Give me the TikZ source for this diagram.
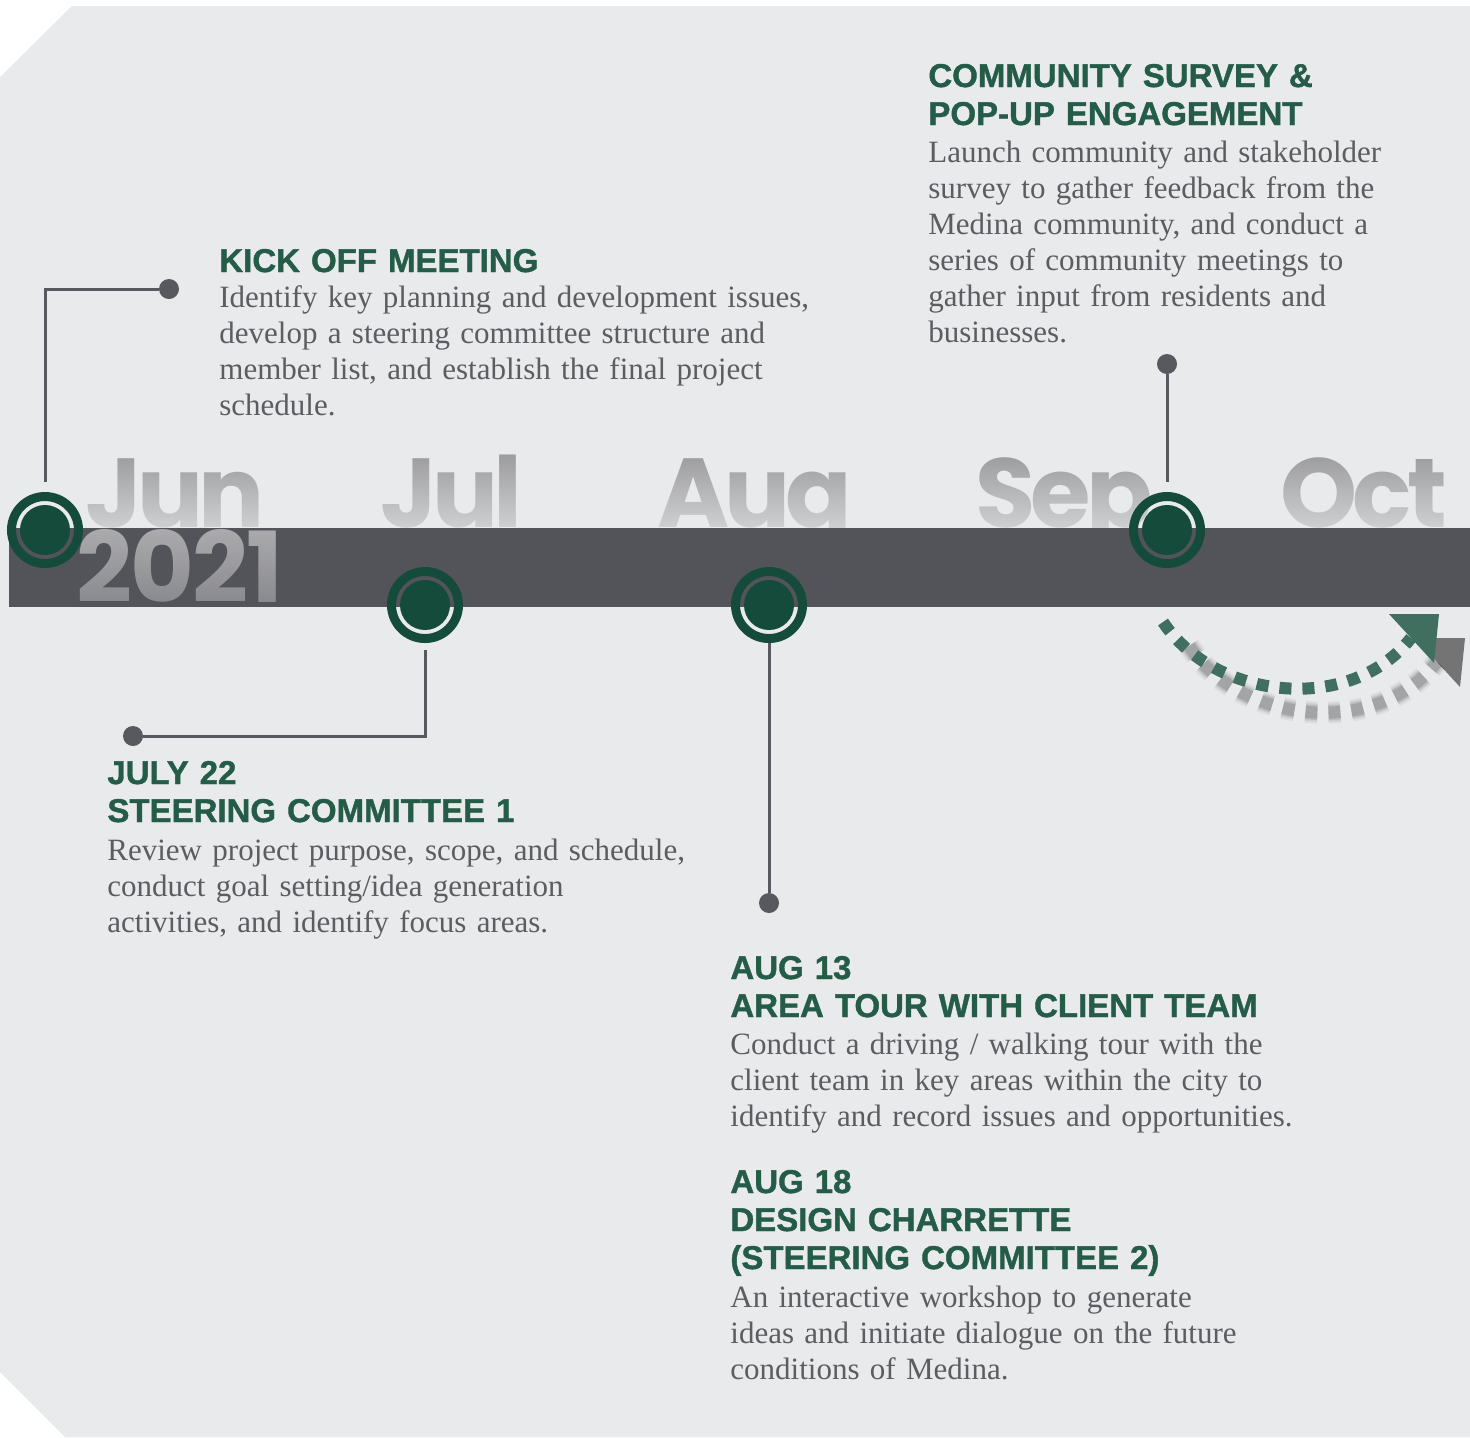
\documentclass[tikz,border=0pt]{standalone}
\usepackage{fontspec}
\usetikzlibrary{fadings}
\newfontfamily\headfont{Liberation Sans}[BoldFeatures={FakeBold=1.2}]
\newfontfamily\bodyfont{Liberation Serif}
\newfontfamily\monthfont{Poppins}[LetterSpace=-5]
\newfontfamily\yearfont{Poppins}[LetterSpace=-2]
\definecolor{bgcol}{HTML}{E9EAEC}
\definecolor{barcol}{HTML}{535459}
\definecolor{msgreen}{HTML}{154B3A}
\definecolor{headgreen}{HTML}{245C48}
\definecolor{bodygray}{HTML}{5C5D61}
\definecolor{stemgray}{HTML}{58595E}
\definecolor{flowgreen}{HTML}{416F5F}
\definecolor{monthgray}{HTML}{9A9A9D}
\definecolor{yeargray}{HTML}{ABABAE}
\tikzfading[name=fadelow, top color=transparent!100, bottom color=transparent!32]
\tikzfading[name=fadeyear, top color=transparent!100, bottom color=transparent!60]
\tikzset{
  monthlabel/.style={font=\monthfont\bfseries\fontsize{49}{49}\selectfont, text=monthgray, anchor=base west, inner sep=0pt},
  yearlabel/.style={font=\yearfont\bfseries\fontsize{49}{49}\selectfont, text=yeargray, anchor=base west, inner sep=0pt},
  milestone/.style={circle, draw=msgreen, line width=4.5pt, minimum size=33.5pt, inner sep=0pt,
    path picture={\fill[msgreen] (path picture bounding box.center) circle (12.5pt);}},
  knob/.style={circle, fill=stemgray, minimum size=10pt, inner sep=0pt},
  stemline/.style={draw=stemgray, line width=1.5pt},
  headtext/.style={font=\headfont\bfseries\fontsize{16.5}{19}\selectfont, text=headgreen, anchor=base west, inner sep=0pt, align=left, text width=330pt},
  bodytext/.style={font=\bodyfont\fontsize{15.5}{18}\selectfont, text=bodygray, anchor=base west, inner sep=0pt, align=left, text width=330pt},
}
\begin{document}
\begin{tikzpicture}[x=0.5pt, y=-0.5pt]
\useasboundingbox (0,0) rectangle (1470,1437);
\fill[bgcol] (72,6) -- (1470,6) -- (1470,1437) -- (65,1437) -- (0,1372) -- (0,77) -- cycle;
% months
\foreach \m/\x in {Jun/85, Jul/380, Aug/657, Sep/975, Oct/1280} % edit here for the months
\node[monthlabel] (month\m) at (\x,527) {\m};
\fill[bgcol, path fading=fadelow] (60,450) rectangle (1465,528);
% bar
\fill[barcol] (9,528) rectangle (1470,607);
\node[yearlabel] (year) at (76,602) {2021};
\fill[barcol, path fading=fadeyear] (60,530) rectangle (300,607);
% arrow and its shadow
\begin{scope}[shift={(26,24)}]
\foreach \w/\o in {11/0.05, 9/0.07, 7.5/0.09, 6/0.12} % blur
\draw[line width=\w pt, dash pattern=on 6pt off 5.5pt, draw=black, opacity=\o] (1163,622) .. controls (1215,700) and (1350,715) .. (1411,638);
\fill[black, opacity=0.5] (1439,614) -- (1389,614) -- (1434,663) -- cycle;
\end{scope}
\coordinate (flowstart) at (1163,622);
\coordinate (flowend) at (1411,638);
\coordinate (flowtip) at (1439,614);
\draw[flowgreen, line width=6pt, dash pattern=on 6pt off 5.5pt] (flowstart) .. controls (1215,700) and (1350,715) .. (flowend);
\fill[flowgreen] (flowtip) -- ++(-50,0) -- ++(45,49) -- cycle;
% milestones
\node[milestone] (jun) at (45,530) {};
\node[milestone] (jul) at (425,605) {};
\node[milestone] (aug) at (769,605) {};
\node[milestone] (sep) at (1167,530) {};
\node[knob] (kickknob) at (169,289) {};
\node[knob] (steerknob) at (133,736) {};
\node[knob] (tourknob) at (769,903) {};
\node[knob] (surveyknob) at (1167,364) {};
\draw[stemline] ([yshift=5pt]jun.north) |- (kickknob);
\draw[stemline] ([yshift=-3.5pt]jul.south) |- (steerknob);
\draw[stemline] (aug.south) -- (tourknob);
\draw[stemline] (surveyknob) -- ([yshift=5pt]sep.north);
% texts
\node[headtext] (kickhead) at (219,272) {KICK OFF MEETING};
\node[bodytext] (kickbody) at (219,307) {Identify key planning and development issues,\\develop a steering committee structure and\\member list, and establish the final project\\schedule.};
\node[headtext] (surveyhead) at (928,87) {COMMUNITY SURVEY \&\\POP-UP ENGAGEMENT};
\node[bodytext] (surveybody) at (928,162) {Launch community and stakeholder\\survey to gather feedback from the\\Medina community, and conduct a\\series of community meetings to\\gather input from residents and\\businesses.};
\node[headtext] (steerhead) at (107,784) {JULY 22\\STEERING COMMITTEE 1};
\node[bodytext] (steerbody) at (107,860) {Review project purpose, scope, and schedule,\\conduct goal setting/idea generation\\activities, and identify focus areas.};
\node[headtext] (tourhead) at (730,979) {AUG 13\\AREA TOUR WITH CLIENT TEAM};
\node[bodytext] (tourbody) at (730,1054) {Conduct a driving / walking tour with the\\client team in key areas within the city to\\identify and record issues and opportunities.};
\node[headtext] (charrettehead) at (730,1193) {AUG 18\\DESIGN CHARRETTE\\(STEERING COMMITTEE 2)};
\node[bodytext] (charrettebody) at (730,1307) {An interactive workshop to generate\\ideas and initiate dialogue on the future\\conditions of Medina.};
\end{tikzpicture}
\end{document}
